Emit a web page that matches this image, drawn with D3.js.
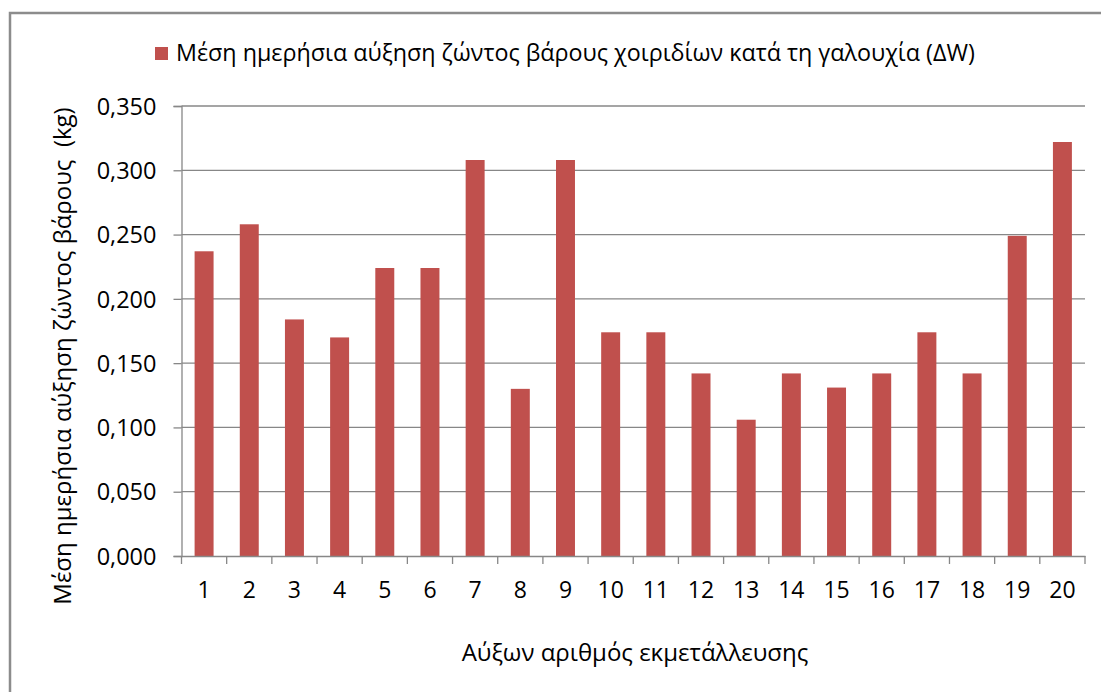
<!DOCTYPE html>
<html>
<head>
<meta charset="utf-8">
<script src="https://cdn.jsdelivr.net/npm/d3@7"></script>
<style>
  body { margin: 0; background: #fff; }
  text { font-family: "Open Sans", "Noto Sans", sans-serif; fill: #000; }
</style>
</head>
<body>
<svg class="chart" width="1101" height="692"></svg>
<script>
// εκμεταλλεύσεις 1..20
var farms = ['1','2','3','4','5','6','7','8','9','10','11','12','13','14','15','16','17','18','19','20'];
var gain = [0.237, 0.258, 0.184, 0.170, 0.224, 0.224, 0.308, 0.130, 0.308, 0.174,
            0.174, 0.142, 0.106, 0.142, 0.131, 0.142, 0.174, 0.142, 0.249, 0.322];
var yTicks = [0, 0.05, 0.10, 0.15, 0.20, 0.25, 0.30, 0.35];

var seriesName = 'Μέση ημερήσια αύξηση ζώντος βάρους χοιριδίων κατά τη γαλουχία (ΔW)';
var yTitle = 'Μέση ημερήσια αύξηση ζώντος βάρους  (kg)';
var xTitle = 'Αύξων αριθμός εκμετάλλευσης';

var margin = {top: 106, right: 16, bottom: 136, left: 181.5},
    width = 1101 - margin.left - margin.right,
    height = 692 - margin.top - margin.bottom;

var locale = d3.formatLocale({decimal: ",", thousands: ".", grouping: [3], currency: ["", "€"]});
var fmt = locale.format(".3f");

var svg = d3.select(".chart");

// πλαίσιο
svg.append("rect")
  .attr("x", 10).attr("y", 13)
  .attr("width", 1200).attr("height", 800)
  .attr("fill", "none")
  .attr("stroke", "#8c8c8c")
  .attr("stroke-width", 2.5);

var x = d3.scaleBand().domain(farms).range([0, width]).padding(0);
var y = d3.scaleLinear().domain([0, 0.35]).range([height, 0]);

var g = svg.append("g").attr("transform", "translate(" + margin.left + "," + margin.top + ")");

// γραμμές πλέγματος
g.selectAll(".grid")
  .data(yTicks.slice(1))
  .enter().append("line")
  .attr("x1", 0).attr("x2", width)
  .attr("y1", function(d) { return y(d); })
  .attr("y2", function(d) { return y(d); })
  .attr("stroke", "#878787")
  .attr("stroke-width", 1.3);

// στήλες
var barW = x.bandwidth() * 0.42;
g.selectAll(".bar")
  .data(gain)
  .enter().append("rect")
  .attr("class", "bar")
  .attr("x", function(d, i) { return x(farms[i]) + (x.bandwidth() - barW) / 2; })
  .attr("y", function(d) { return y(d); })
  .attr("width", barW)
  .attr("height", function(d) { return height - y(d); })
  .attr("fill", "#c0504d");

// άξονας y
var yAxis = g.append("g")
  .call(d3.axisLeft(y).tickValues(yTicks).tickSize(8).tickPadding(17).tickFormat(fmt));
yAxis.select(".domain").attr("stroke", "#878787").attr("stroke-width", 1.3);
yAxis.selectAll(".tick line").attr("stroke", "#878787").attr("stroke-width", 1.3);
yAxis.selectAll("text").style("font-size", "23.5px").attr("dy", "0.35em");

// άξονας x
var xAxis = g.append("g")
  .attr("transform", "translate(0," + height + ")")
  .call(d3.axisBottom(x).tickSize(0).tickPadding(42));
xAxis.select(".domain").attr("stroke", "#878787").attr("stroke-width", 1.3);
xAxis.selectAll("text").style("font-size", "23px").attr("dy", "0");

// υποδιαιρέσεις στα όρια των κατηγοριών
var bounds = farms.map(function(f) { return x(f); }).concat([width]);
xAxis.selectAll(".bound")
  .data(bounds)
  .enter().append("line")
  .attr("x1", function(d) { return d; })
  .attr("x2", function(d) { return d; })
  .attr("y1", 0).attr("y2", 8)
  .attr("stroke", "#878787")
  .attr("stroke-width", 1.3);

// τίτλοι αξόνων
svg.append("text")
  .attr("x", 635).attr("y", 661)
  .attr("text-anchor", "middle")
  .style("font-size", "24px")
  .text(xTitle);

svg.append("text")
  .attr("transform", "translate(71,356) rotate(-90)")
  .attr("text-anchor", "middle")
  .style("font-size", "24px")
  .style("white-space", "pre")
  .text(yTitle);

// υπόμνημα
svg.append("rect")
  .attr("x", 155).attr("y", 47)
  .attr("width", 13).attr("height", 13)
  .attr("fill", "#c0504d");
svg.append("text")
  .attr("x", 176).attr("y", 61)
  .style("font-size", "23.3px")
  .text(seriesName);
</script>
</body>
</html>
